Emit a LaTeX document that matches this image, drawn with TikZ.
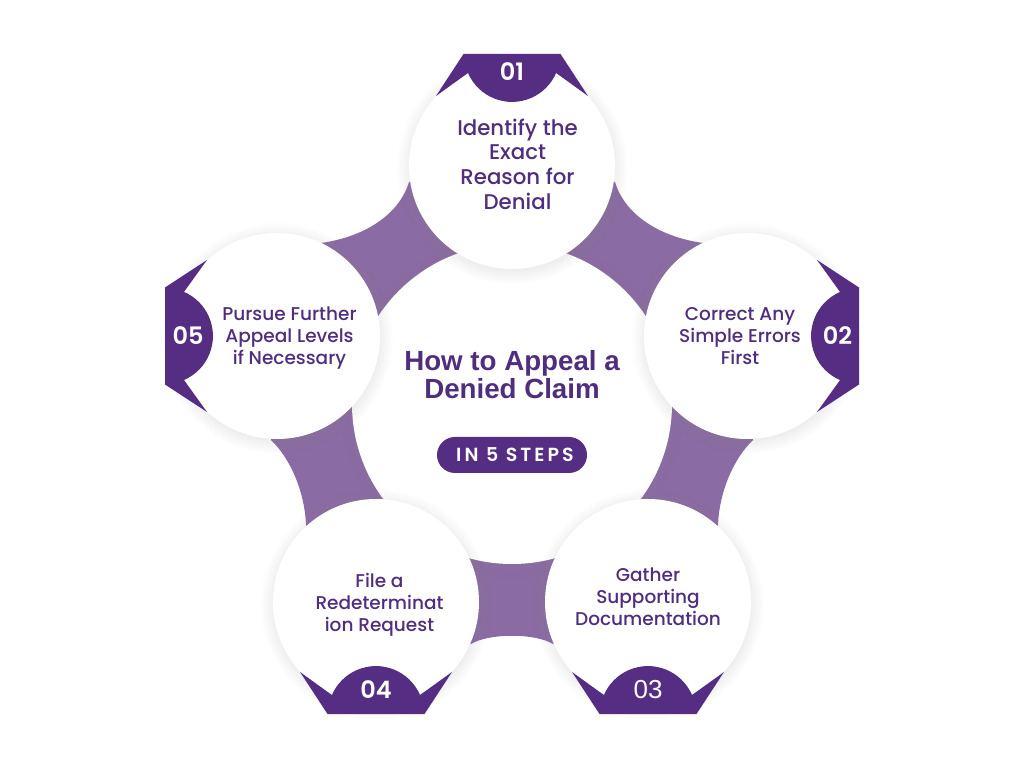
\documentclass[tikz,border=0pt]{standalone}
\usepackage{fontspec}
\setmainfont{Poppins}
\newfontfamily\medfont{Poppins Medium}
\newfontfamily\boldfont{Poppins SemiBold}
\newfontfamily\spacedfont[LetterSpace=16]{Poppins SemiBold}
\newfontfamily\thinfont{Liberation Sans}
\newfontfamily\titlefont{Liberation Sans Bold}
\usetikzlibrary{shadows}
\definecolor{darkviolet}{HTML}{552D82}
\definecolor{softviolet}{HTML}{8A6BA3}
\definecolor{inkviolet}{HTML}{4F2D7F}

\tikzset{
  petal/.style={circle,fill=white,minimum size=206pt,inner sep=0pt,
    circular drop shadow={shadow xshift=0pt,shadow yshift=-2pt,shadow scale=1.12,opacity=.16}},
  petaltext/.style={align=center,inner sep=0pt,text=inkviolet,
    font=\medfont\fontsize{18.5}{22}\selectfont},
  web/.style={fill=softviolet},
  tab/.style={fill=darkviolet},
  tabnum/.style={text=white,font=\boldfont\fontsize{24}{24}\selectfont,inner sep=0pt},
  pics/steptab/.style={code={
    \fill[tab] (-48.5,112) -- (-76,70) -- (-44,93)
      arc[start angle=203.4,end angle=336.6,radius=48pt]
      -- (76,70) -- (48.5,112) -- cycle;}}
}

\begin{document}
\begin{tikzpicture}[x=1pt,y=1pt]

  \useasboundingbox[fill=white] (0,0) rectangle (1024,768);

  % circle centres, y measured from the bottom of the page
  \coordinate (O) at (512,364);
  \coordinate (A) at (512,602);
  \coordinate (B) at (747,432);
  \coordinate (C) at (648,166);
  \coordinate (D) at (376,166);
  \coordinate (E) at (277,432);

  % light webs between the circles
  \fill[web] (615,586) .. controls (625,553) and (660,531) .. (703,525) -- (B) -- (O) -- (A) -- cycle;
  \fill[web] (753,328) .. controls (732,308) and (719,273) .. (718,243) -- (C) -- (O) -- (B) -- cycle;
  \fill[web] (553,124) .. controls (535,135) and (489,135) .. (471,124) -- (D) -- (O) -- (C) -- cycle;
  \fill[web] (306,243) .. controls (305,273) and (292,308) .. (271,328) -- (E) -- (O) -- (D) -- cycle;
  \fill[web] (321,525) .. controls (364,531) and (399,553) .. (409,586) -- (A) -- (O) -- (E) -- cycle;

  \node[circle,fill=white,minimum size=320pt,inner sep=0pt,
    circular drop shadow={shadow xshift=0pt,shadow yshift=-2pt,shadow scale=1.08,opacity=.12}] (hub) at (O) {};

  \node[petal] (one) at (A) {};
  \node[petal] (two) at (B) {};
  \node[petal] (three) at (C) {};
  \node[petal] (four) at (D) {};
  \node[petal] (five) at (E) {};

  \node[petaltext,font=\medfont\fontsize{21.3}{24.7}\selectfont] (onetext) at (517.5,604) {Identify the\\Exact\\Reason for\\Denial};
  \node[petaltext] (twotext) at (740,432) {Correct Any\\Simple Errors\\First};
  \node[petaltext] (threetext) at (648,171) {Gather\\Supporting\\Documentation};
  \node[petaltext] (fourtext) at (379.5,163) {File a\\Redeterminat\\ion Request};
  \node[petaltext] (fivetext) at (289.5,430) {Pursue Further\\Appeal Levels\\if Necessary};

  \pic at (A) {steptab};
  \pic[rotate=-90] at (B) {steptab};
  \pic[rotate=180] at (C) {steptab};
  \pic[rotate=180] at (D) {steptab};
  \pic[rotate=90] at (E) {steptab};

  \node[tabnum] (n1) at (512,696) {01};
  \node[tabnum] (n2) at (837.5,432) {02};
  \node[tabnum,font=\thinfont\fontsize{26}{26}\selectfont] (n3) at (648,78) {03};
  \node[tabnum] (n4) at (376,78) {04};
  \node[tabnum] (n5) at (188,432) {05};

  \node[align=center,text=inkviolet,font=\titlefont\fontsize{27.7}{28}\selectfont] (title) at (512,393)
    {How to Appeal a\\Denied Claim};
  \node[fill=darkviolet,rounded corners=18pt,minimum width=150pt,minimum height=36pt,inner sep=0pt,
    text=white,font=\spacedfont\fontsize{19}{19}\selectfont] (badge) at (512,313) {\kern6pt IN 5 STEPS};

\end{tikzpicture}
\end{document}
